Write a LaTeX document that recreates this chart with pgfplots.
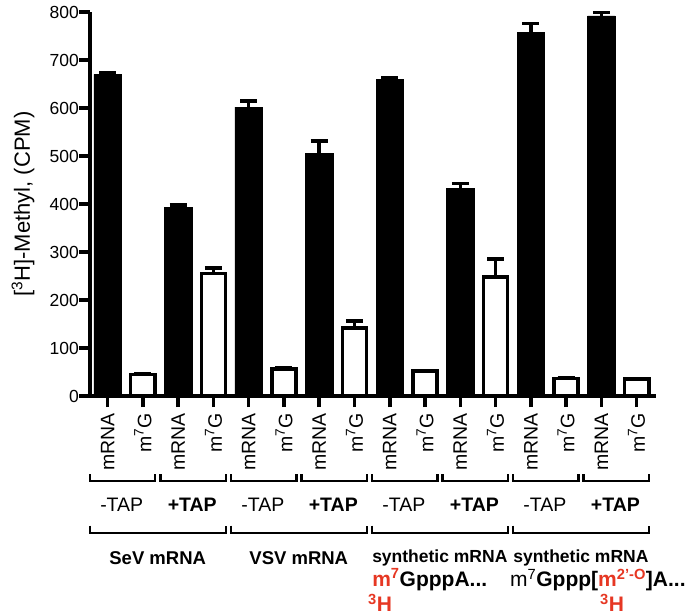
\documentclass[border=0pt]{standalone}
\usepackage{fontspec}
\setmainfont{Liberation Sans}
\usepackage{pgfplots}
\pgfplotsset{compat=1.18}
\definecolor{myred}{RGB}{230,55,35}
\newcommand{\brk}[4]{\draw[line width=2.5pt, line cap=butt, line join=miter] (axis cs:#1,#4) -- (axis cs:#1,#3) -- (axis cs:#2,#3) -- (axis cs:#2,#4);}
\begin{document}
\begin{tikzpicture}
\begin{axis}[
 scale only axis, width=566pt, height=384pt,
 xmin=-0.5, xmax=15.55, ymin=0, ymax=800,
 axis lines=left, axis line style={-, line width=3.5pt},
 ytick={0,100,...,800},
 xtick={0,...,15},
 xticklabels={mRNA, m\textsuperscript{7}G, mRNA, m\textsuperscript{7}G, mRNA, m\textsuperscript{7}G, mRNA, m\textsuperscript{7}G, mRNA, m\textsuperscript{7}G, mRNA, m\textsuperscript{7}G, mRNA, m\textsuperscript{7}G, mRNA, m\textsuperscript{7}G},
 tick align=outside, major tick length=11pt,
 tick style={line width=3.5pt, black},
 /pgf/number format/assume math mode=true,
 yticklabel style={font=\fontsize{17.5}{17.5}\selectfont, inner sep=0pt},
 xticklabel style={rotate=90, anchor=east, font=\fontsize{19.5}{19.5}\selectfont, inner sep=0pt},
 xticklabel shift=6pt,
 ylabel={[\textsuperscript{3}H]-Methyl, (CPM)},
 ylabel style={font=\fontsize{22}{22}\selectfont, at={(axis description cs:0,0.5)}, anchor=center, rotate=0, yshift=67pt},
 clip=false,
 ybar, bar shift=0pt,
]
\addplot[fill=black, draw=black, bar width=0.78,
 error bars/.cd, y dir=plus, y explicit,
 error bar style={line width=3.5pt, black},
 error mark options={rotate=90, line width=3.5pt, mark size=8.5pt, black}]
 coordinates {(0,670) +- (0,4) (2,393) +- (0,5) (4,602) +- (0,13) (6,506) +- (0,25)
 (8,659) +- (0,3) (10,432) +- (0,11) (12,758) +- (0,18) (14,792) +- (0,7)};
\addplot[fill=white, draw=black, line width=3.5pt, bar width=0.69,
 error bars/.cd, y dir=plus, y explicit,
 error bar style={line width=3.5pt, black},
 error mark options={rotate=90, line width=3.5pt, mark size=8.5pt, black}]
 coordinates {(1,45) +- (0,1) (3,255) +- (0,12) (5,56) +- (0,2) (7,142) +- (0,14)
 (9,52) +- (0,1) (11,248) +- (0,37) (13,36) +- (0,2) (15,35) +- (0,1)};
\coordinate (O) at (axis cs:-0.5,0);
% first-level brackets
\brk{-0.5}{1.35}{-177}{-163}
\brk{1.5}{3.35}{-177}{-163}
\brk{3.5}{5.35}{-177}{-163}
\brk{5.5}{7.35}{-177}{-163}
\brk{7.5}{9.35}{-177}{-163}
\brk{9.5}{11.35}{-177}{-163}
\brk{11.5}{13.35}{-177}{-163}
\brk{13.5}{15.35}{-177}{-163}
% second-level brackets
\brk{-0.5}{3.35}{-285}{-270}
\brk{3.5}{7.35}{-285}{-270}
\brk{7.5}{11.35}{-285}{-270}
\brk{11.5}{15.35}{-285}{-270}
% TAP labels
\node[font=\fontsize{19.5}{19.5}\selectfont] at (axis cs:0.4,-227) {-TAP};
\node[font=\fontsize{19.5}{19.5}\selectfont\bfseries] at (axis cs:2.4,-227) {+TAP};
\node[font=\fontsize{19.5}{19.5}\selectfont] at (axis cs:4.4,-227) {-TAP};
\node[font=\fontsize{19.5}{19.5}\selectfont\bfseries] at (axis cs:6.4,-227) {+TAP};
\node[font=\fontsize{19.5}{19.5}\selectfont] at (axis cs:8.4,-227) {-TAP};
\node[font=\fontsize{19.5}{19.5}\selectfont\bfseries] at (axis cs:10.4,-227) {+TAP};
\node[font=\fontsize{19.5}{19.5}\selectfont] at (axis cs:12.4,-227) {-TAP};
\node[font=\fontsize{19.5}{19.5}\selectfont\bfseries] at (axis cs:14.4,-227) {+TAP};
% group labels
\node[font=\fontsize{18.5}{18.5}\selectfont\bfseries] at (axis cs:1.42,-338) {SeV mRNA};
\node[font=\fontsize{18.5}{18.5}\selectfont\bfseries] at (axis cs:5.42,-338) {VSV mRNA};
\node[font=\fontsize{17.5}{17.5}\selectfont\bfseries] at (axis cs:9.42,-338) {synthetic mRNA};
\node[font=\fontsize{17.5}{17.5}\selectfont\bfseries] at (axis cs:13.42,-338) {synthetic mRNA};
% formulas
\node[anchor=west, inner sep=0pt, font=\fontsize{21}{21}\selectfont\bfseries] at (axis cs:7.5,-383) {\textcolor{myred}{m\textsuperscript{7}}GpppA...};
\node[anchor=west, inner sep=0pt, font=\fontsize{21}{21}\selectfont\bfseries, text=myred] at (axis cs:7.38,-431) {\textsuperscript{3}H};
\node[anchor=west, inner sep=0pt, font=\fontsize{21}{21}\selectfont] at (axis cs:11.41,-383) {m\textsuperscript{7}\textbf{Gppp[\textcolor{myred}{m\textsuperscript{2’-O}}]A...}};
\node[anchor=west, inner sep=0pt, font=\fontsize{21}{21}\selectfont\bfseries, text=myred] at (axis cs:13.96,-431) {\textsuperscript{3}H};
\end{axis}
\path (O) ++(-90pt,-219pt) rectangle ++(692pt,615pt);
\end{tikzpicture}
\end{document}
